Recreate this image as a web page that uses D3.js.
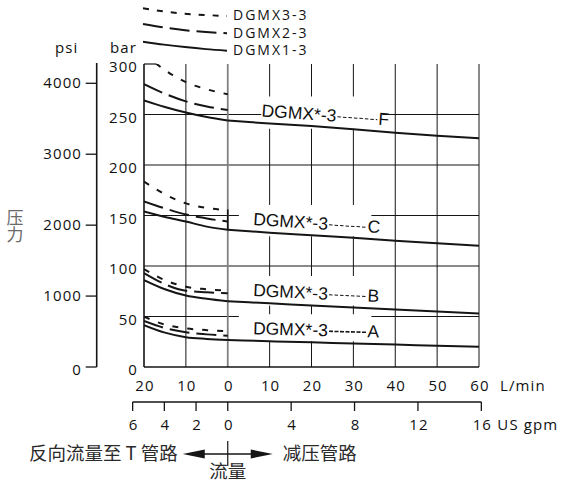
<!DOCTYPE html>
<html><head><meta charset="utf-8">
<script src="https://cdn.jsdelivr.net/npm/d3@7"></script>
<style>
body{margin:0;background:#fff;}
svg{display:block;}
.num{font-family:"Open Sans","Noto Sans",sans-serif;font-size:15px;fill:#111;letter-spacing:1.1px;}
.lab{font-family:"Liberation Sans",Arial,sans-serif;font-size:17.5px;fill:#111;}
.cjk{font-family:"Noto Sans CJK SC",sans-serif;font-size:18.5px;fill:#2a2a2a;}
</style></head><body>
<svg id="c" width="561" height="484"></svg>
<script>
// ---------- data ----------
const flowRev = [-20, -15, -10, -5, 0];          // L/min, reverse flow to T
const flowFwd = [0, 10, 20, 30, 40, 50, 60];     // L/min, reducing flow
const groupNames = ["F", "C", "B", "A"];
// DGMX1-3 (solid)
const fSolidRev = [264, 257.5, 252, 247.5, 244];
const fSolidFwd = [244, 241, 238.5, 235.5, 232, 229, 226.5];
const cSolidRev = [154, 148.5, 144, 139, 136];
const cSolidFwd = [136, 133, 130.5, 128, 125, 122.5, 120];
const bSolidRev = [86, 77, 70.8, 67.5, 65];
const bSolidFwd = [65, 63, 61, 59, 57, 55, 53];
const aSolidRev = [41.5, 34, 29.5, 27.8, 26.7];
const aSolidFwd = [26.7, 25.5, 24.4, 23.3, 22.2, 21.1, 20];
// DGMX2-3 (long dash)
const fLongRev = [280, 270.5, 263, 258, 254.5];
const cLongRev = [164, 157, 151, 147, 144];
const bLongRev = [93, 82, 75.5, 74, 73];
const aLongRev = [45.5, 38.5, 34.3, 32.3, 31];
// DGMX3-3 (short dash)
const fShortRev = [310, 294, 282, 275, 270];
const cShortRev = [183.5, 171, 162, 157.5, 155];
const bShortRev = [97, 86, 79.5, 77, 75.5];
const aShortRev = [49.8, 42, 38.3, 36.5, 35.6];
// axes
const barTicks = [0, 50, 100, 150, 200, 250, 300];
const psiTicks = [0, 1000, 2000, 3000, 4000];
const lpmTicks = [-20, -10, 0, 10, 20, 30, 40, 50, 60];
const gpmTicks = [-6, -4, -2, 0, 4, 8, 12, 16];
const legendNames = ["DGMX3-3", "DGMX2-3", "DGMX1-3"];
const labelText = "DGMX*-3";
const yTitle = "压力";

// ---------- build ----------
const solidRev = [fSolidRev, cSolidRev, bSolidRev, aSolidRev];
const solidFwd = [fSolidFwd, cSolidFwd, bSolidFwd, aSolidFwd];
const longRev = [fLongRev, cLongRev, bLongRev, aLongRev];
const shortRev = [fShortRev, cShortRev, bShortRev, aShortRev];
const LPM_PER_GPM = 3.785;

const svg = d3.select("#c");
const ink = "#151515";
const x = d3.scaleLinear().domain([-20, 60]).range([144, 479]);
const y = d3.scaleLinear().domain([0, 300]).range([367, 64]);
const yPsi = d3.scaleLinear().domain([0, 4000]).range([367, 83.3]);

svg.append("clipPath").attr("id", "pc").append("rect")
  .attr("x", x(-20)).attr("y", y(300)).attr("width", x(60) - x(-20)).attr("height", y(0) - y(300));

// grid
const grid = svg.append("g");
grid.selectAll("line.h").data(barTicks.filter(v => v > 0 && v < 300)).join("line")
  .attr("x1", x(-20)).attr("x2", x(60)).attr("y1", d => y(d)).attr("y2", d => y(d))
  .attr("stroke", ink).attr("stroke-width", 1);
grid.append("line").attr("x1", x(-20)).attr("x2", x(-17)).attr("y1", y(300)).attr("y2", y(300))
  .attr("stroke", ink).attr("stroke-width", 1.2);
grid.selectAll("line.v").data(lpmTicks.filter(v => v > -20)).join("line")
  .attr("x1", d => x(d)).attr("x2", d => x(d)).attr("y1", y(300)).attr("y2", y(0))
  .attr("stroke", d => d === 0 ? "#808080" : ink).attr("stroke-width", d => d === 0 ? 1.8 : 1);

// label white boxes (hide grid under labels)
const lineAt = (arr, f) => {
  const i = d3.bisectLeft(flowFwd, f);
  if (i <= 0) return arr[0];
  const t = (f - flowFwd[i - 1]) / (flowFwd[i] - flowFwd[i - 1]);
  return arr[i - 1] + t * (arr[i] - arr[i - 1]);
};
const labels = groupNames.map((name, i) => {
  const f0 = name === "F" ? 8 : 6;
  const x0 = x(f0);
  const base0 = y(lineAt(solidFwd[i], f0)) - 6.5;
  const ang = Math.atan2(y(solidFwd[i][6]) - y(solidFwd[i][0]), x(60) - x(0));
  return {name, i, x0, base0, ang, pad: name === "F" ? 0 : 14, letterDx: name === "F" ? 117 : 114.5};
});
svg.append("g").selectAll("rect").data(labels).join("rect")
  .attr("x", d => d.x0 - d.pad)
  .attr("y", d => d.base0 - 20)
  .attr("width", d => d.pad + d.letterDx + 4)
  .attr("height", d => 20 + d.letterDx * Math.tan(d.ang) + 4)
  .attr("fill", "#fff");

// frame
svg.append("line").attr("x1", x(-20)).attr("x2", x(-20)).attr("y1", y(300)).attr("y2", y(0))
  .attr("stroke", ink).attr("stroke-width", 1.6);
svg.append("line").attr("x1", x(-20)).attr("x2", x(60)).attr("y1", y(0)).attr("y2", y(0))
  .attr("stroke", ink).attr("stroke-width", 1.6);

// curves
const line = d3.line().x(d => x(d[0])).y(d => y(d[1])).curve(d3.curveMonotoneX);
const curves = svg.append("g").attr("clip-path", "url(#pc)")
  .attr("fill", "none").attr("stroke", ink).attr("stroke-width", 2);
solidRev.forEach((arr, i) => {
  curves.append("path").attr("d", line(flowRev.map((f, k) => [f, arr[k]])));
  curves.append("path").attr("d", line(flowFwd.map((f, k) => [f, solidFwd[i][k]])));
  curves.append("path").attr("d", line(flowRev.map((f, k) => [f, longRev[i][k]])))
    .attr("stroke-dasharray", "20,7");
  curves.append("path").attr("d", line(flowRev.map((f, k) => [f, shortRev[i][k]])))
    .attr("stroke-dasharray", "6,9");
});
// end marker of C group at zero flow
svg.append("line").attr("x1", x(0)).attr("x2", x(0))
  .attr("y1", y(shortRev[1][4] + 1)).attr("y2", y(solidRev[1][4] - 0.5))
  .attr("stroke", ink).attr("stroke-width", 1.6);

// curve labels
const lg = svg.append("g").selectAll("g").data(labels).join("g")
  .attr("transform", d => `translate(${d.x0},${d.base0}) rotate(${d.ang * 180 / Math.PI})`);
lg.append("text").attr("class", "lab").attr("x", 0).attr("y", 0).text(labelText);
lg.append("line").attr("x1", 76).attr("x2", d => d.letterDx - 1).attr("y1", -5).attr("y2", -5)
  .attr("stroke", ink).attr("stroke-width", d => d.name === "A" ? 1.6 : 1)
  .attr("stroke-dasharray", d => d.name === "A" ? "4,1.5" : "3.5,2");
lg.append("text").attr("class", "lab").attr("x", d => d.letterDx).attr("y", 0).text(d => d.name);

// bar axis labels
svg.append("g").selectAll("text").data(barTicks).join("text")
  .attr("class", "num").attr("text-anchor", "end")
  .attr("x", 138).attr("y", d => y(d) + 8).text(d => d);
// psi axis
const psiX = 96.7;
svg.append("line").attr("x1", psiX).attr("x2", psiX).attr("y1", 63).attr("y2", yPsi(0))
  .attr("stroke", ink).attr("stroke-width", 1.6);
svg.append("g").selectAll("line").data(psiTicks).join("line")
  .attr("x1", psiX - 11).attr("x2", psiX).attr("y1", d => yPsi(d)).attr("y2", d => yPsi(d))
  .attr("stroke", ink).attr("stroke-width", 1.3);
svg.append("g").selectAll("text").data(psiTicks).join("text")
  .attr("class", "num").attr("text-anchor", "end")
  .attr("x", 82).attr("y", d => yPsi(d) + 5 + (d === 0 ? 3 : 0)).text(d => d);
svg.append("text").attr("class", "num").attr("x", 55).attr("y", 53).text("psi");
svg.append("text").attr("class", "num").attr("x", 110).attr("y", 53).text("bar");
svg.append("text").attr("class", "cjk")
  .style("fill", "#6a6a6a").style("font-size", "17px").style("writing-mode", "vertical-rl")
  .attr("x", 15).attr("y", yPsi(2000) - 16).text(yTitle);

// L/min axis labels
svg.append("g").selectAll("text").data(lpmTicks).join("text")
  .attr("class", "num").attr("text-anchor", "middle")
  .attr("x", d => x(d) + 1).attr("y", 390.5).text(d => Math.abs(d));
svg.append("text").attr("class", "num").attr("x", 500).attr("y", 390.5).text("L/min");

// gpm axis
const gx = g => x(g * LPM_PER_GPM);
const gY = 402;
svg.append("line").attr("x1", gx(-6)).attr("x2", gx(16)).attr("y1", gY).attr("y2", gY)
  .attr("stroke", ink).attr("stroke-width", 1.6);
svg.append("g").selectAll("line").data(gpmTicks).join("line")
  .attr("x1", d => gx(d)).attr("x2", d => gx(d)).attr("y1", gY).attr("y2", gY + 9)
  .attr("stroke", ink).attr("stroke-width", 1.3);
svg.append("g").selectAll("text").data(gpmTicks).join("text")
  .attr("class", "num").attr("text-anchor", "middle")
  .attr("x", d => gx(d) + 1).attr("y", 430).text(d => Math.abs(d));
svg.append("text").attr("class", "num").attr("x", gx(16) + 16).attr("y", 430).text("US gpm");

// flow direction annotation
const ax = x(0), ay = 454;
svg.append("line").attr("x1", ax - 40).attr("x2", ax + 40).attr("y1", ay).attr("y2", ay)
  .attr("stroke", ink).attr("stroke-width", 1.3);
svg.append("path").attr("fill", ink)
  .attr("d", `M${ax - 45},${ay} L${ax - 23},${ay - 4.5} L${ax - 23},${ay + 4.5} Z`);
svg.append("path").attr("fill", ink)
  .attr("d", `M${ax + 45},${ay} L${ax + 23},${ay - 4.5} L${ax + 23},${ay + 4.5} Z`);
svg.append("line").attr("x1", ax).attr("x2", ax).attr("y1", 441).attr("y2", 466)
  .attr("stroke", ink).attr("stroke-width", 1.2);
svg.append("text").attr("class", "cjk").attr("text-anchor", "end")
  .attr("x", ax - 50).attr("y", 460).text("反向流量至 T 管路");
svg.append("text").attr("class", "cjk").attr("x", ax + 55).attr("y", 460).text("减压管路");
svg.append("text").attr("class", "cjk").attr("text-anchor", "middle")
  .attr("x", ax).attr("y", 478).text("流量");

// legend
const lx = d3.scaleLinear().domain([-20, 0]).range([143, 227]);
const legendSeries = [shortRev[0], longRev[0], solidRev[0]];
const legendDash = ["6,8", "20,7", null];
const legendTop = [8.3, 24, 41.7];
const legendDrop = [7.7, 9.3, 9];
const legendBase = [20, 37.5, 55];
legendSeries.forEach((arr, i) => {
  const ly = d3.scaleLinear().domain([arr[0], arr[4]]).range([legendTop[i], legendTop[i] + legendDrop[i]]);
  const ll = d3.line().x(d => lx(d[0])).y(d => ly(d[1])).curve(d3.curveMonotoneX);
  svg.append("path").attr("d", ll(flowRev.map((f, k) => [f, arr[k]])))
    .attr("fill", "none").attr("stroke", ink).attr("stroke-width", 2)
    .attr("stroke-dasharray", legendDash[i]);
  svg.append("text").attr("class", "num").style("font-size", "14px").style("letter-spacing", "2px")
    .attr("x", 233).attr("y", legendBase[i]).text(legendNames[i]);
});
</script>
</body></html>
